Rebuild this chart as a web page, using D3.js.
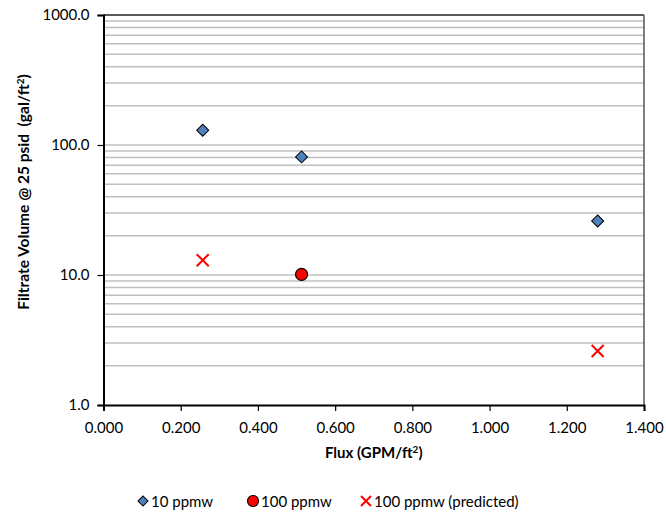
<!DOCTYPE html>
<html>
<head>
<meta charset="utf-8">
<script src="https://cdn.jsdelivr.net/npm/d3@7"></script>
<style>
  html, body { margin: 0; padding: 0; background: #fff; }
  svg { display: block; font-family: Lato, "Open Sans", sans-serif; }
</style>
</head>
<body>
<svg id="chart"></svg>
<script>
// ── DATA ────────────────────────────────────────────────────────────────
const seriesNames = ["10 ppmw", "100 ppmw", "100 ppmw (predicted)"];
const flux10      = [0.257, 0.513, 1.280];
const vol10       = [130, 81, 26];
const flux100     = [0.513];
const vol100      = [10.1];
const fluxPred    = [0.257, 1.280];
const volPred     = [13.0, 2.6];
const xTicks      = [0, 0.2, 0.4, 0.6, 0.8, 1.0, 1.2, 1.4];
const yTicks      = [1, 10, 100, 1000];

// ── DIMENSIONS ───────────────────────────────────────────────────────────
const W = 666, H = 518;
const margin = { top: 15, right: 22, bottom: 113, left: 103.5 };
const innerW = W - margin.left - margin.right;
const innerH = H - margin.top - margin.bottom;

const svg = d3.select("#chart").attr("width", W).attr("height", H);
const g = svg.append("g").attr("transform", `translate(${margin.left},${margin.top})`);

const x = d3.scaleLinear().domain([0, 1.4]).range([0, innerW]);
const y = d3.scaleLog().domain([1, 1000]).range([innerH, 0]);

// ── GRID (minor + major) ────────────────────────────────────────────────
const gridVals = [];
for (let k = 0; k < 3; k++) for (let m = 1; m <= 10; m++) gridVals.push(m * Math.pow(10, k));
g.append("g").selectAll("line")
  .data(Array.from(new Set(gridVals)).filter(v => v > 1 && v < 1000))
  .join("line")
    .attr("x1", 0).attr("x2", innerW)
    .attr("y1", d => y(d)).attr("y2", d => y(d))
    .attr("stroke", "#c0c0c0").attr("stroke-width", 1.5);

// frame top / right
g.append("line").attr("x1", 0).attr("x2", innerW).attr("y1", 0).attr("y2", 0)
  .attr("stroke", "#222").attr("stroke-width", 1.5);
g.append("line").attr("x1", innerW).attr("x2", innerW).attr("y1", 0).attr("y2", innerH)
  .attr("stroke", "#555").attr("stroke-width", 1.5);

// ── AXES ─────────────────────────────────────────────────────────────────
g.append("g")
  .attr("transform", `translate(0,${innerH})`)
  .call(d3.axisBottom(x).tickValues(xTicks).tickSize(6).tickPadding(11).tickFormat(d3.format(".3f")))
  .call(ax => ax.select(".domain").attr("stroke", "#000").attr("stroke-width", 2))
  .call(ax => ax.selectAll(".tick line").attr("stroke", "#000").attr("stroke-width", 1.2))
  .call(ax => ax.selectAll(".tick text").style("font-size", "15px").style("fill", "#000")
    .style("font-family", "Lato, sans-serif"));

g.append("g")
  .call(d3.axisLeft(y).tickValues(yTicks).tickSize(6).tickPadding(8).tickFormat(d3.format(".1f")))
  .call(ax => ax.select(".domain").attr("stroke", "#000").attr("stroke-width", 2))
  .call(ax => ax.selectAll(".tick line").attr("stroke", "#000").attr("stroke-width", 1.2))
  .call(ax => ax.selectAll(".tick text").style("font-size", "15px").style("fill", "#000")
    .style("font-family", "Lato, sans-serif"));

// axis titles
svg.append("text")
  .attr("x", margin.left + innerW / 2).attr("y", 458)
  .attr("text-anchor", "middle")
  .style("font-size", "15px").style("font-weight", "bold")
  .html("Flux (GPM/ft<tspan dy='-5' font-size='10'>2</tspan><tspan dy='5'>)</tspan>");

svg.append("text")
  .attr("transform", `translate(29,${margin.top + 177}) rotate(-90)`)
  .attr("text-anchor", "middle")
  .style("font-size", "15.5px").style("font-weight", "bold")
  .attr("xml:space", "preserve")
  .html("Filtrate Volume @ 25 psid  (gal/ft<tspan dy='-5' font-size='10'>2</tspan><tspan dy='5'>)</tspan>");

// ── MARKS ────────────────────────────────────────────────────────────────
const diamond = d3.symbol().type(d3.symbolSquare).size(72);
g.selectAll(".s10")
  .data(flux10.map((f, i) => [f, vol10[i]]))
  .join("path")
    .attr("class", "s10")
    .attr("d", diamond)
    .attr("transform", d => `translate(${x(d[0])},${y(d[1])}) rotate(45)`)
    .attr("fill", "#4f81bd").attr("stroke", "#000").attr("stroke-width", 1);

g.selectAll(".s100")
  .data(flux100.map((f, i) => [f, vol100[i]]))
  .join("circle")
    .attr("class", "s100")
    .attr("cx", d => x(d[0])).attr("cy", d => y(d[1])).attr("r", 6)
    .attr("fill", "#ff0000").attr("stroke", "#000").attr("stroke-width", 1.2);

g.selectAll(".sPred")
  .data(fluxPred.map((f, i) => [f, volPred[i]]))
  .join("path")
    .attr("class", "sPred")
    .attr("d", "M-6,-6L6,6M-6,6L6,-6")
    .attr("transform", d => `translate(${x(d[0])},${y(d[1])})`)
    .attr("fill", "none").attr("stroke", "#ff0000").attr("stroke-width", 2);

// ── LEGEND ───────────────────────────────────────────────────────────────
const legendX = [147, 257, 370];
const leg = svg.append("g").attr("transform", "translate(0,501)");
seriesNames.forEach((name, i) => {
  const lx = legendX[i];
  if (i === 0) {
    leg.append("path").attr("d", d3.symbol().type(d3.symbolSquare).size(50))
      .attr("transform", `translate(${lx - 4},0) rotate(45)`)
      .attr("fill", "#4f81bd").attr("stroke", "#000").attr("stroke-width", 1);
  } else if (i === 1) {
    leg.append("circle").attr("cx", lx - 4).attr("cy", 0).attr("r", 5.5)
      .attr("fill", "#ff0000").attr("stroke", "#000").attr("stroke-width", 1.2);
  } else {
    leg.append("path").attr("d", "M-5,-5L5,5M-5,5L5,-5")
      .attr("transform", `translate(${lx - 4},0)`)
      .attr("fill", "none").attr("stroke", "#ff0000").attr("stroke-width", 2);
  }
  leg.append("text").attr("x", lx + 4).attr("y", 5.5)
    .style("font-size", "15px").text(name);
});
</script>
</body>
</html>
